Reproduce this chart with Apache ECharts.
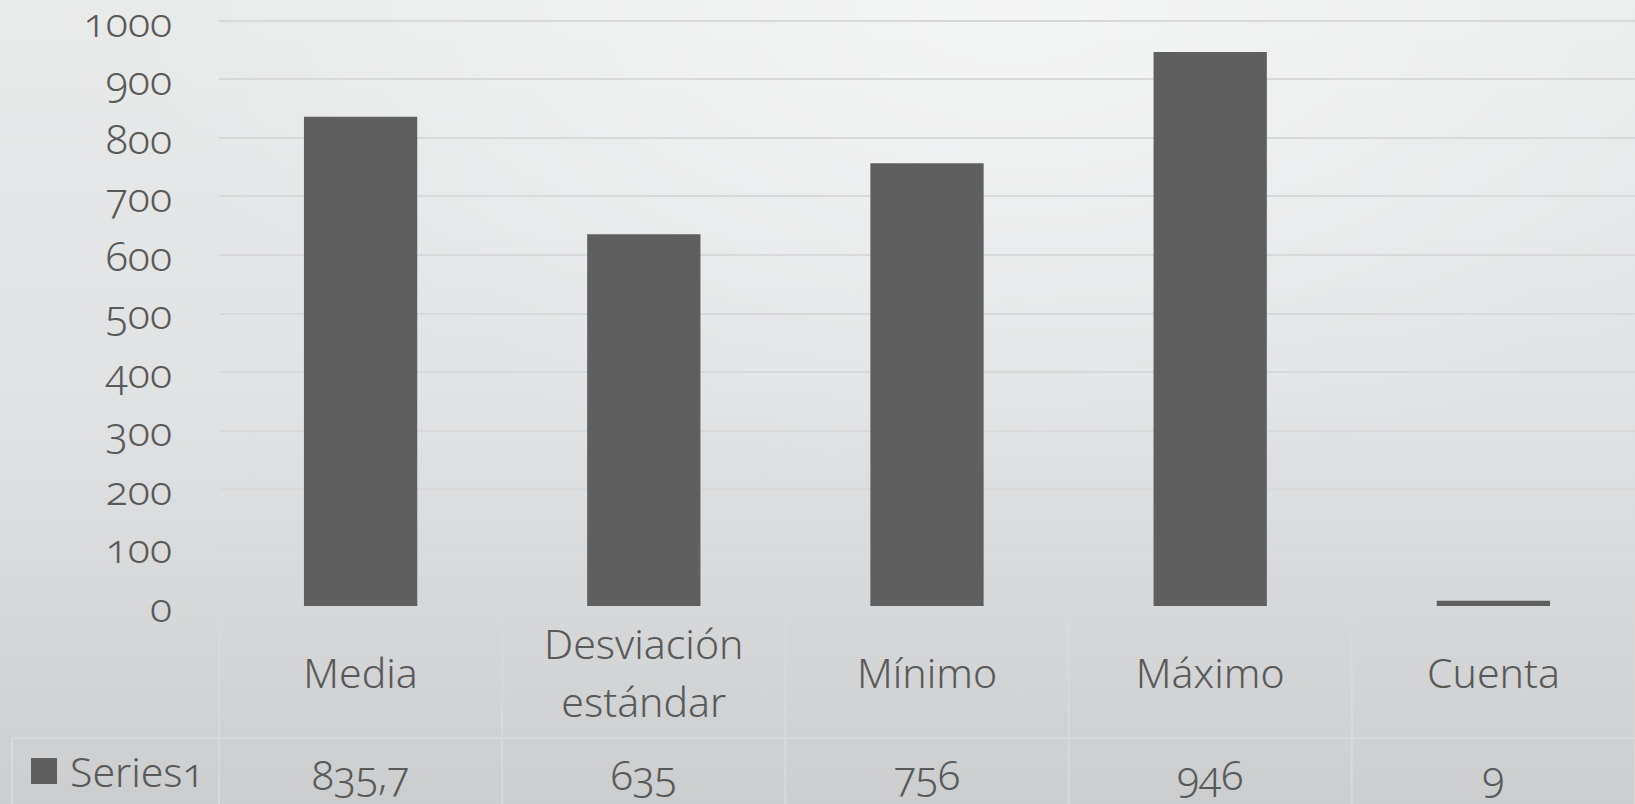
<!DOCTYPE html>
<html>
<head>
<meta charset="utf-8">
<script src="https://cdn.jsdelivr.net/npm/echarts@6/dist/echarts.min.js"></script>
<style>
  html, body { margin: 0; padding: 0; width: 1635px; height: 804px; overflow: hidden; }
  #chart {
    width: 1635px; height: 804px;
    background:
      radial-gradient(ellipse 55% 60% at 62% 0%, rgba(255,255,255,0.55), rgba(255,255,255,0) 100%),
      linear-gradient(to bottom, #e9eaea 0%, #e1e2e3 50%, #d4d6d7 80%, #cbcdce 100%);
  }
  /* old-style figures for every number drawn in the chart */
  #chart text { font-variant-numeric: oldstyle-nums !important; font-feature-settings: "onum" 1 !important; }
</style>
</head>
<body>
<div id="chart"></div>
<script>
// Summary statistics of the sample
const categories = ['Media', 'Desviación\nestándar', 'Mínimo', 'Máximo', 'Cuenta'];
const values = [835.7, 635, 756, 946, 9];
const seriesName = 'Series1';
const yMin = 0;
const yMax = 1000;
const yStep = 100;

const TEXT = '#595959';
const LINE = '#d9d9d9';
const FONT = "'Noto Sans', sans-serif";
const FW = 300;
const FS = 41;
const ROW_H = 132;          // height of the category row of the data table
const TABLE_LEFT = 12;      // left border of the legend cell

// values written the Spanish way (decimal comma)
const valueLabels = values.map(v => String(v).replace('.', ','));

const chart = echarts.init(document.getElementById('chart'), null, { renderer: 'svg' });

chart.setOption({
  backgroundColor: 'transparent',
  animation: false,
  textStyle: { fontFamily: FONT, fontWeight: FW },
  grid: { left: 219, right: 0, top: 20, bottom: 198, containLabel: false },
  legend: {
    data: [seriesName],
    left: 31, top: 745, padding: 0,
    icon: 'rect', itemWidth: 26, itemHeight: 26, itemGap: 0,
    textStyle: { color: TEXT, fontSize: FS, fontFamily: FONT, fontWeight: FW, lineHeight: 52, padding: [0, 0, 0, 8] }
  },
  xAxis: [
    {
      type: 'category', data: categories, position: 'bottom',
      axisLine: { show: true, lineStyle: { color: LINE, width: 2 } },
      axisTick: { show: false },
      axisLabel: {
        interval: 0, color: TEXT, fontSize: FS, fontFamily: FONT, fontWeight: FW,
        lineHeight: 58, verticalAlign: 'middle', margin: ROW_H / 2
      }
    },
    {
      type: 'category', data: valueLabels, position: 'bottom', offset: ROW_H,
      axisLine: { show: false }, axisTick: { show: false },
      axisLabel: {
        interval: 0, color: TEXT, fontSize: FS, fontFamily: FONT, fontWeight: FW,
        verticalAlign: 'middle', margin: 36
      }
    }
  ],
  yAxis: {
    type: 'value', min: yMin, max: yMax, interval: yStep,
    axisLine: { show: false }, axisTick: { show: false },
    axisLabel: {
      color: TEXT, fontSize: FS, fontFamily: FONT, fontWeight: FW, margin: 47, lineHeight: 36,
      formatter: v => String(v)
    },
    splitLine: { lineStyle: { color: LINE, width: 2 } }
  },
  series: [{
    name: seriesName, type: 'bar', data: values, barWidth: '40%',
    itemStyle: { color: '#5f5f5f' }
  }]
});

// Data table borders, placed from the category axis and value axis positions
function drawTable() {
  const centers = categories.map((c, i) => chart.convertToPixel({ xAxisIndex: 0 }, i));
  const band = centers[1] - centers[0];
  const edges = centers.map(x => x - band / 2).concat([centers[centers.length - 1] + band / 2]);
  const y0 = chart.convertToPixel({ yAxisIndex: 0 }, yMin);
  const bottom = chart.getHeight();
  const right = chart.getWidth();
  const style = { stroke: LINE, lineWidth: 2 };
  const els = [];
  edges.forEach(x => {
    els.push({ type: 'line', silent: true, z: 1, shape: { x1: x, y1: y0, x2: x, y2: bottom }, style });
  });
  els.push({ type: 'line', silent: true, z: 1, shape: { x1: TABLE_LEFT, y1: y0 + ROW_H, x2: right, y2: y0 + ROW_H }, style });
  els.push({ type: 'line', silent: true, z: 1, shape: { x1: TABLE_LEFT, y1: y0 + ROW_H, x2: TABLE_LEFT, y2: bottom }, style });
  chart.setOption({ graphic: { elements: els } });
}
drawTable();
</script>
</body>
</html>
